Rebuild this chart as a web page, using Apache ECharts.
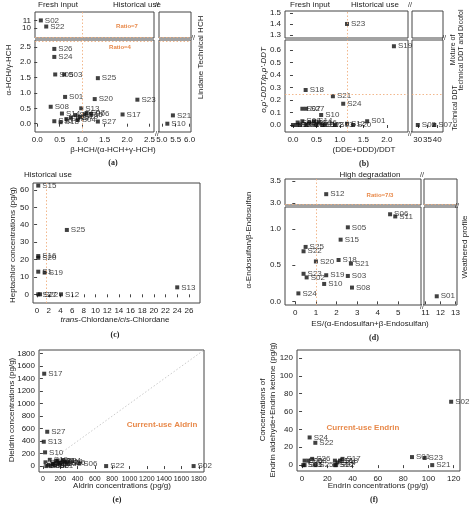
<!DOCTYPE html>
<html><head><meta charset="utf-8">
<script src="https://cdn.jsdelivr.net/npm/echarts@6/dist/echarts.min.js"></script>
<style>html,body{margin:0;background:#fff}#c{width:474px;height:507px}</style>
</head><body><div id="c"></div>
<script>
// (a) HCH
var aNames = ["S02","S22","S26","S24","S05","S03","S25","S01","S20","S23","S08","S13","S17","S21","S10","S27","S18","S16","S14","S12","S11","S06","S19","S15","S09","S04","S07"];
var aX = [0.08,0.2,0.38,0.38,0.4,0.6,1.35,0.62,1.28,2.23,0.3,0.98,1.9,5.4,5.2,1.35,0.52,0.38,0.55,0.75,0.85,1.2,0.95,1.05,0.65,0.9,1.1];
var aY = [11.0,10.2,2.43,2.17,1.6,1.6,1.48,0.87,0.8,0.78,0.55,0.5,0.3,0.27,0.0,0.07,0.05,0.08,0.33,0.2,0.28,0.32,0.22,0.3,0.15,0.12,0.35];
// (b) DDT
var bNames = ["S23","S19","S18","S21","S24","S27","S07b","S10","S01","S12","S20","S13","S02","S07","S03","S04","S05","S06","S08","S09","S11","S14","S15","S16","S17","S22"];
var bX = [1.15,2.15,0.27,0.85,1.07,0.28,0.2,0.6,1.58,1.15,1.28,0.9,30,38.5,0.0,0.08,0.1,0.15,0.2,0.28,0.35,0.45,0.5,0.55,0.62,0.68];
var bY = [1.40,0.63,0.28,0.23,0.17,0.13,0.13,0.08,0.03,0.01,0.0,0.0,0.0,0.0,0.0,0.0,0.02,0.0,0.03,0.0,0.02,0.03,0.0,0.02,0.0,0.0];
// (c) chlordane
var cNames = ["S15","S25","S16","S20","S1","S19","S27","S22","S12","S13"];
var cX = [0.2,5.1,0.2,0.2,0.2,1.3,0.2,0.5,4.1,24];
var cY = [62.5,37,22,21,13,12.5,0,0,0,4];
// (d) endosulfan
var dNames = ["S12","S06","S11","S05","S15","S25","S22","S20","S18","S21","S23","S02","S19","S03","S10","S08","S24","S01"];
var dX = [1.5,4.6,4.85,2.55,2.2,0.5,0.4,1.0,2.1,2.7,0.4,0.55,1.5,2.55,1.4,2.75,0.15,11.75];
var dY = [3.2,1.2,1.17,1.02,0.85,0.75,0.69,0.55,0.57,0.52,0.38,0.33,0.36,0.35,0.24,0.19,0.11,0.07];
// (e) aldrin / dieldrin
var eNames = ["S17","S27","S13","S10","S11","S06","S22","S02","S05","S03","S08","S01","S09","S12","S14","S16","S18","S19","S20","S21","S23","S24"];
var eX = [15,50,10,25,170,420,730,1740,30,60,90,120,150,200,250,280,40,80,110,140,180,230];
var eY = [1480,550,390,220,90,40,0,0,60,20,0,40,80,50,70,60,0,100,30,10,40,90];
// (f) endrin
var fNames = ["S02","S24","S22","S26","S25","S17","S01","S23","S21","S03","S05","S06","S08","S10","S12","S14","S16","S18"];
var fX = [118,6,10.5,8,10.5,32,87,97,103,1,2,2,5,26,27,28,26,30];
var fY = [71,31,25,7,0,7,9,8,0,0,0,5,5,0,0,3,5,5];

var ticksA_x1 = [0,0.5,1.0,1.5,2.0,2.5], ticksA_x2 = [5.0,5.5,6.0];
var ticksA_y1 = [9,10,11,12], ticksA_y2 = [0,0.5,1.0,1.5,2.0,2.5];
var ticksB_x1 = [0,0.5,1.0,1.5,2.0], ticksB_x2 = [30,35,40];
var ticksB_y1 = [1.3,1.4,1.5], ticksB_y2 = [0,0.1,0.2,0.3,0.4,0.5,0.6];
var ticksC_x = [0,2,4,6,8,10,12,14,16,18,20,22,24,26], ticksC_y = [0,10,20,30,40,50,60];
var ticksD_x1 = [0,1,2,3,4,5], ticksD_x2 = [11,12,13];
var ticksD_y1 = [3.0,3.5], ticksD_y2 = [0,0.5,1.0];
var ticksE = [0,200,400,600,800,1000,1200,1400,1600,1800];
var ticksF_x = [0,20,40,60,80,100,120], ticksF_y = [0,20,40,60,80,100,120];

function pts(names, xs, ys){
	return names.map(function(n,i){ return {name: n.replace("b",""), value:[xs[i], ys[i]]}; });
}

var FONT = "Liberation Sans";
var ORANGE = "#e8894a";
var grids = [], xAxes = [], yAxes = [], series = [];

function addPanel(p){
	p.xs.forEach(function(xs, xi){
		p.ys.forEach(function(ys, yi){
			var idx = grids.length;
			var bottom = yi == p.ys.length-1, left = xi == 0;
			var fs = p.tickFont || 8;
			grids.push({left: xs.p0, width: xs.p1-xs.p0, top: ys.p0, height: ys.p1-ys.p0, show: true, borderColor: "#444", borderWidth: 1});
			xAxes.push({gridIndex: idx, type: "value", min: xs.min, max: xs.max, splitLine: {show: false}, axisLine: {show: false},
				axisTick: {show: bottom, length: 3, customValues: xs.ticks, lineStyle: {color: "#444"}},
				axisLabel: {show: bottom, customValues: xs.ticks, fontSize: fs, margin: 4, color: "#222", fontFamily: FONT, hideOverlap: false,
					formatter: function(v){ return v.toFixed(xs.dec); }}});
			yAxes.push({gridIndex: idx, type: "value", min: ys.min, max: ys.max, splitLine: {show: false}, axisLine: {show: false},
				axisTick: {show: left, length: 3, customValues: ys.ticks, lineStyle: {color: "#444"}},
				axisLabel: {show: left, customValues: ys.ticks, fontSize: 8, margin: 4, color: "#222", fontFamily: FONT, hideOverlap: false,
					formatter: function(v){ return v.toFixed(ys.dec); }}});
			var data = p.data.filter(function(d){
				return d.value[0] >= xs.min && d.value[0] <= xs.max && d.value[1] >= ys.min && d.value[1] <= ys.max;
			});
			var ml = [];
			(p.vLines || []).forEach(function(v){ if(v > xs.min && v < xs.max) ml.push({xAxis: v}); });
			(p.hLines || []).forEach(function(v){ if(v > ys.min && v < ys.max) ml.push({yAxis: v}); });
			if(p.diag) ml.push([{coord: [0,0]}, {coord: [p.diag, p.diag]}]);
			series.push({type: "scatter", xAxisIndex: idx, yAxisIndex: idx, data: data, symbol: "rect", symbolSize: 4,
				itemStyle: {color: "#111"}, animation: false,
				label: {show: true, position: "right", distance: 2, formatter: "{b}", fontSize: 8, color: "#111", fontFamily: FONT},
				markLine: {silent: true, symbol: "none", label: {show: false}, animation: false,
					lineStyle: {type: [1.5, 2], color: p.diag ? "#c4c4c4" : "#f0b080", width: 0.9},
					data: ml}});
		});
	});
}

addPanel({data: pts(aNames, aX, aY), vLines: [1.0], hLines: [2.68, 8.8],
	xs: [{min:-0.05,max:2.6,p0:35,p1:154,ticks:ticksA_x1,dec:1},{min:4.9,max:6.05,p0:159,p1:191,ticks:ticksA_x2,dec:1}],
	ys: [{min:8.7,max:12.1,p0:12,p1:38,ticks:ticksA_y1,dec:0},{min:-0.27,max:2.72,p0:40,p1:132,ticks:ticksA_y2,dec:1}]});
addPanel({data: pts(bNames, bX, bY), vLines: [1.15], hLines: [0.25],
	xs: [{min:-0.17,max:2.45,p0:285,p1:408,ticks:ticksB_x1,dec:1},{min:27,max:43,p0:412,p1:443,ticks:ticksB_x2,dec:0}],
	ys: [{min:1.27,max:1.52,p0:11,p1:38,ticks:ticksB_y1,dec:1},{min:-0.056,max:0.68,p0:40,p1:132,ticks:ticksB_y2,dec:1}]});
addPanel({data: pts(cNames, cX, cY), vLines: [1.5],
	xs: [{min:-0.7,max:27.9,p0:33,p1:200,ticks:ticksC_x,dec:0}],
	ys: [{min:-5,max:64,p0:183,p1:303,ticks:ticksC_y,dec:0}]});
addPanel({data: pts(dNames, dX, dY), vLines: [1.0], hLines: [2.97],
	xs: [{min:-0.5,max:6.1,p0:285,p1:421,ticks:ticksD_x1,dec:0},{min:10.9,max:13.1,p0:424,p1:457,ticks:ticksD_x2,dec:0}],
	ys: [{min:2.95,max:3.55,p0:179,p1:205,ticks:ticksD_y1,dec:1},{min:-0.05,max:1.3,p0:207,p1:305,ticks:ticksD_y2,dec:1}]});
addPanel({data: pts(eNames, eX, eY), diag: 1860, tickFont: 7,
	xs: [{min:-45,max:1860,p0:39,p1:204,ticks:ticksE,dec:0}],
	ys: [{min:-95,max:1860,p0:350,p1:472,ticks:ticksE,dec:0}]});
addPanel({data: pts(fNames, fX, fY), diag: 129,
	xs: [{min:-4,max:125,p0:297,p1:460,ticks:ticksF_x,dec:0}],
	ys: [{min:-6.6,max:129,p0:350,p1:471,ticks:ticksF_y,dec:0}]});

// texts
function txt(x, y, s, o){
	o = o || {};
	return {type: "text", x: x, y: y, rotation: o.rot ? Math.PI/2 : 0, z: 10,
		style: {text: s, fontSize: o.size || 8, fontFamily: o.serif ? "Liberation Serif" : FONT, fill: o.color || "#222",
			fontWeight: o.bold ? "bold" : "normal", fontStyle: o.italic ? "italic" : "normal",
			align: "center", verticalAlign: "middle"}};
}
var ob = {color: ORANGE, bold: true, size: 6};
var graphics = [
	txt(58,5,"Fresh input"), txt(137,5,"Historical use"), txt(157,5,"//",{size:7}), txt(157,134,"//",{size:7}), txt(193,38,"//",{size:7}),
	txt(127,26,"Ratio=7",ob), txt(120,47,"Ratio=4",ob),
	txt(201,42,"Technical HCH",{rot:1}), txt(201,85,"Lindane",{rot:1}),
	txt(9,70,"α-HCH/γ-HCH",{rot:1}), txt(113,150,"β-HCH/(α-HCH+γ-HCH)"), txt(113,163,"(a)",{serif:1,bold:1}),
	txt(310,5,"Fresh input"), txt(375,5,"Historical use"), txt(410,5,"//",{size:7}), txt(410,134,"//",{size:7}), txt(444,38,"//",{size:7}),
	txt(453,50,"Mixture of",{rot:1,size:7}), txt(461,50,"technical DDT and Dicofol",{rot:1,size:7}), txt(455,108,"Technical DDT",{rot:1,size:7}),
	txt(264,80,"o,p'-DDT/p,p'-DDT",{rot:1,italic:1}), txt(364,150,"(DDE+DDD)/DDT"), txt(364,164,"(b)",{serif:1,bold:1}),
	txt(48,175,"Historical use"),
	txt(13,245,"Heptachlor concentrations (pg/g)",{rot:1}),
	{type:"text", x:115, y:320, z:10, style:{text:"{i|trans}-Chlordane/{i|cis}-Chlordane", fontSize:8, fontFamily:FONT, fill:"#222", align:"center", verticalAlign:"middle",
		rich:{i:{fontStyle:"italic", fontSize:8, fontFamily:FONT}}}},
	txt(115,335,"(c)",{serif:1,bold:1}),
	txt(370,175,"High degradation"), txt(422,175,"//",{size:7}), txt(422,307,"//",{size:7}), txt(457,206,"//",{size:7}),
	txt(380,195,"Ratio=7/3",ob), txt(465,247,"Weathered profile",{rot:1}),
	txt(249,240,"α-Endosulfan/β-Endosulfan",{rot:1}), txt(370,324,"ES/(α-Endosulfan+β-Endosulfan)"), txt(374,338,"(d)",{serif:1,bold:1}),
	txt(12,410,"Dieldrin concentrations (pg/g)",{rot:1}), txt(122,486,"Aldrin concentrations (pg/g)"), txt(117,500,"(e)",{serif:1,bold:1}),
	txt(162,425,"Current-use Aldrin",{color:ORANGE,bold:1,size:8}),
	txt(263,410,"Concentrations of",{rot:1}), txt(273,410,"Endrin aldehyde+Endrin ketone (pg/g)",{rot:1}),
	txt(378,486,"Endrin concentrations (pg/g)"), txt(374,500,"(f)",{serif:1,bold:1}),
	txt(363,428,"Current-use Endrin",{color:ORANGE,bold:1,size:8})
];

var chart = echarts.init(document.getElementById("c"));
chart.setOption({animation: false, grid: grids, xAxis: xAxes, yAxis: yAxes, series: series, graphic: graphics});
</script>
</body></html>
